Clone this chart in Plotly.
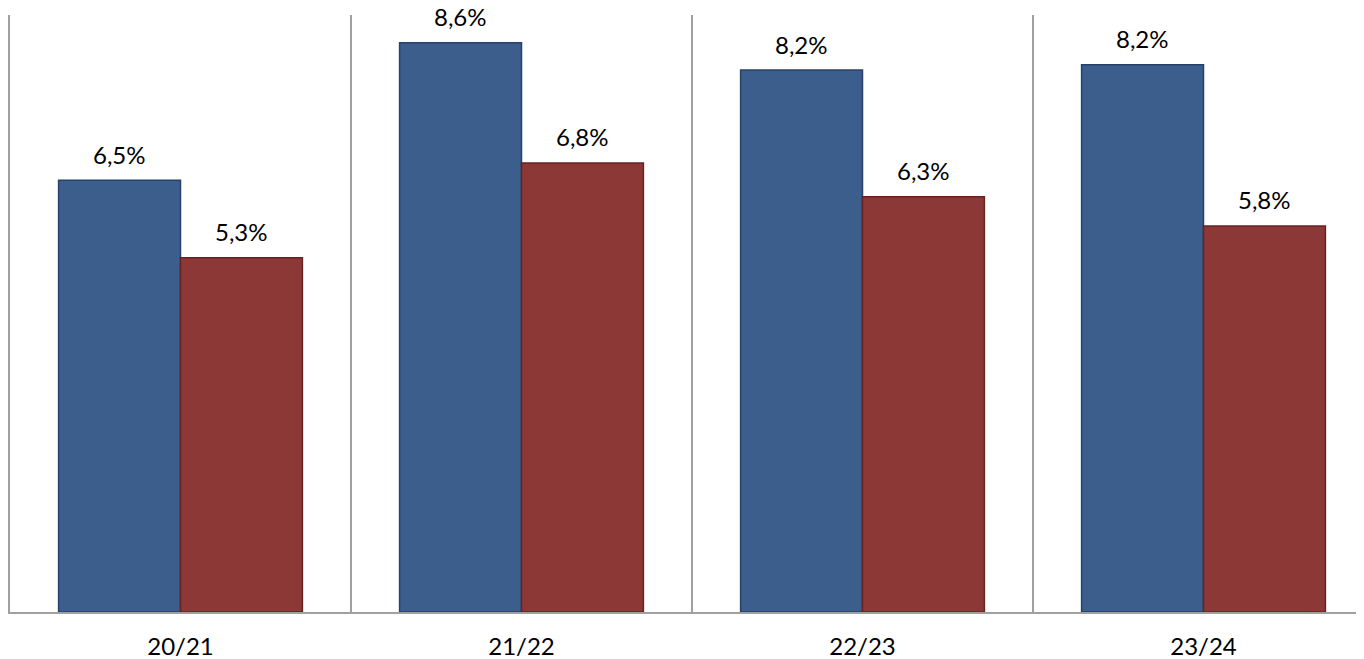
import plotly.graph_objects as go

categories = ["20/21", "21/22", "22/23", "23/24"]
series_a = [6.51, 8.58, 8.17, 8.25]
series_b = [5.34, 6.77, 6.26, 5.82]
label_a = ["6,5%", "8,6%", "8,2%", "8,2%"]
label_b = ["5,3%", "6,8%", "6,3%", "5,8%"]

FONT = "Lato"
fig = go.Figure()
fig.add_trace(go.Bar(x=categories, y=series_a, marker=dict(color="#3B5E8C", line=dict(color="#26416A", width=1.5)), hoverinfo="skip"))
fig.add_trace(go.Bar(x=categories, y=series_b, marker=dict(color="#8C3836", line=dict(color="#662321", width=1.5)), hoverinfo="skip"))

for c, v, t in zip(categories, series_a, label_a):
    fig.add_annotation(x=c, y=v, text=t, showarrow=False, xshift=-61, yshift=26, yanchor="middle",
                       font=dict(family=FONT, size=24, color="#000000"))
for c, v, t in zip(categories, series_b, label_b):
    fig.add_annotation(x=c, y=v, text=t, showarrow=False, xshift=61, yshift=26, yanchor="middle",
                       font=dict(family=FONT, size=24, color="#000000"))

fig.update_layout(
    width=1366, height=659,
    margin=dict(l=2, r=0, t=7, b=55),
    paper_bgcolor="white", plot_bgcolor="white",
    barmode="group", bargap=0.285, bargroupgap=0,
    showlegend=False,
    font=dict(family=FONT, size=24, color="#000000"),
)
fig.update_xaxes(type="category", tickson="boundaries", showgrid=True, gridcolor="#A0A0A0", gridwidth=2,
                 showline=True, linecolor="#A0A0A0", linewidth=2, ticks="", ticklabelstandoff=12,
                 tickfont=dict(family=FONT, size=24, color="#000000"))
fig.update_yaxes(range=[0, 9], showgrid=False, zeroline=False, showticklabels=False,
                 showline=True, linecolor="#A0A0A0", linewidth=2, ticks="")

fig.write_html("out.html")
